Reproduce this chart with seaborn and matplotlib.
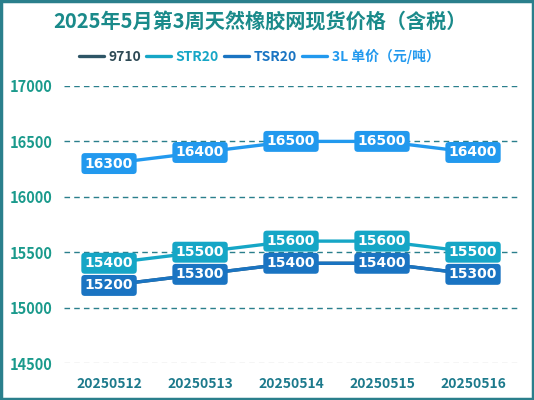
import pandas as pd
import seaborn as sns
import matplotlib.pyplot as plt
from matplotlib.patches import Rectangle

dates = ['20250512', '20250513', '20250514', '20250515', '20250516']
series_names = ['9710', 'STR20', 'TSR20', '3L 单价（元/吨）']
price_9710 = [15200, 15300, 15400, 15400, 15300]
price_str20 = [15400, 15500, 15600, 15600, 15500]
price_tsr20 = [15200, 15300, 15400, 15400, 15300]
price_3l = [16300, 16400, 16500, 16500, 16400]
y_ticks = [14500, 15000, 15500, 16000, 16500, 17000]

colors = {'9710': '#2e5566', 'STR20': '#16a6c6', 'TSR20': '#1a74c2',
          '3L 单价（元/吨）': '#2299ee'}

df = pd.DataFrame({
    'date': dates * 4,
    'series': [s for s in series_names for _ in dates],
    'price': price_9710 + price_str20 + price_tsr20 + price_3l,
})

sns.set_style('white')
plt.rcParams['font.family'] = ['Noto Sans CJK SC', 'DejaVu Sans']

fig = plt.figure(figsize=(5.34, 4.0), dpi=100)
ax = fig.add_axes([0.119, 0.0925, 0.852, 0.6925])

sns.lineplot(data=df, x='date', y='price', hue='series', hue_order=series_names,
             palette=colors, linewidth=2.4, ax=ax, sort=False)

ax.set_xlim(-0.5, 4.5)
ax.set_ylim(14500, 17000)
ax.set_yticks(y_ticks)
for t in y_ticks:
    if t == 14500:
        ax.axhline(t, color='#cccccc', lw=1, ls=(0, (4, 3)), zorder=0)
    else:
        ax.axhline(t, color='#2a7f8c', lw=1, ls=(0, (4, 3)), zorder=0)
for s in ax.spines.values():
    s.set_visible(False)
ax.tick_params(axis='y', length=0, pad=8, labelsize=10.5, labelcolor='#1a9a8c')
ax.tick_params(axis='x', length=0, pad=10, labelsize=10, labelcolor='#1d7a8c')
for lab in ax.get_xticklabels() + ax.get_yticklabels():
    lab.set_fontweight('bold')
ax.set_xlabel('')
ax.set_ylabel('')

# value labels
for name, vals in [('3L 单价（元/吨）', price_3l), ('STR20', price_str20), ('TSR20', price_tsr20)]:
    for i, v in enumerate(vals):
        ax.text(i, v, f'{v}', ha='center', va='center', color='white',
                fontsize=10, fontweight='bold', family='DejaVu Sans', zorder=5,
                bbox=dict(boxstyle='round,pad=0.25,rounding_size=0.25',
                          fc=colors[name], ec='none'))

leg = ax.legend(loc='center', bbox_to_anchor=(0.43, 1.108), ncol=4, frameon=False,
                handlelength=1.8, handletextpad=0.3, columnspacing=0.4, fontsize=10)
for txt, name in zip(leg.get_texts(), series_names):
    txt.set_color(colors[name])
    txt.set_fontweight('bold')
leg.get_texts()[0].set_color('#2e4a55')

fig.text(0.487, 0.945, '2025年5月第3周天然橡胶网现货价格（含税）', ha='center', va='center',
         fontsize=14.5, fontweight='bold', color='#1a8a8a')

fig.patches.append(Rectangle((0.002, 0.003), 0.996, 0.994, transform=fig.transFigure,
                             fill=False, ec='#2a7f8c', lw=2.5))
fig.savefig('out.png', dpi=100)
